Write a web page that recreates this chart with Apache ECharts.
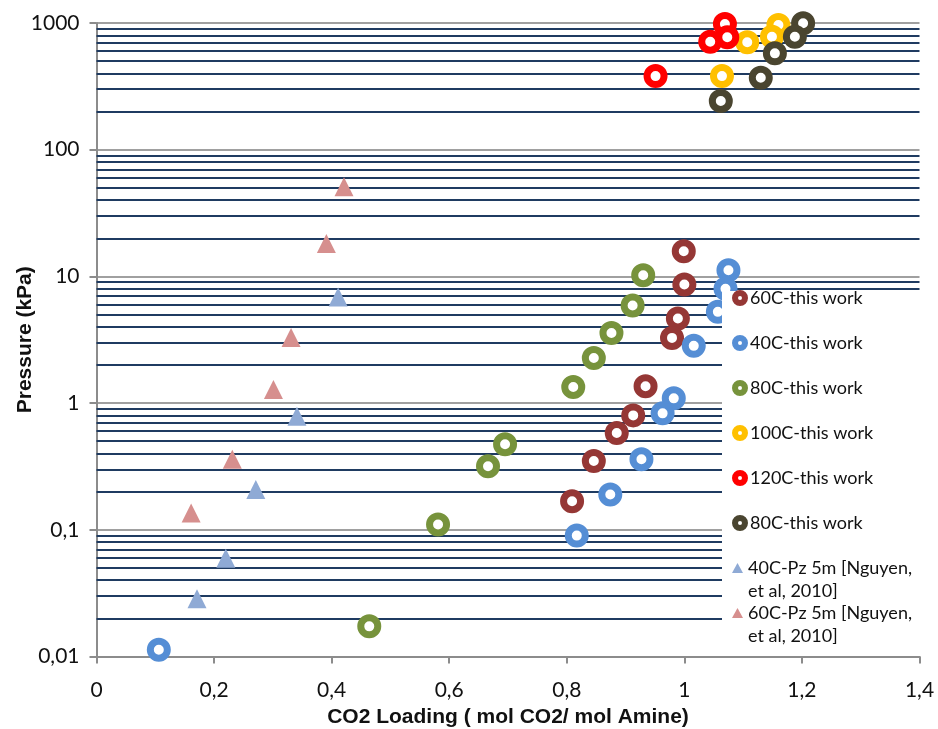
<!DOCTYPE html>
<html>
<head>
<meta charset="utf-8">
<script src="https://cdn.jsdelivr.net/npm/echarts@6/dist/echarts.min.js"></script>
<style>html,body{margin:0;padding:0;background:#fff}#c{width:938px;height:729px}</style>
</head>
<body>
<div id="c"></div>
<script>
// ---- data (x: CO2 loading, y: pressure kPa) ----
const s60x  = [0.999, 1.000, 0.989, 0.979, 0.934, 0.913, 0.885, 0.846, 0.809];
const s60y  = [15.8, 8.63, 4.65, 3.27, 1.36, 0.80, 0.58, 0.349, 0.168];
const s40x  = [1.075, 1.070, 1.057, 1.016, 0.982, 0.963, 0.927, 0.874, 0.817, 0.106];
const s40y  = [11.2, 8.0, 5.25, 2.83, 1.09, 0.83, 0.36, 0.19, 0.090, 0.0113];
const s80x  = [0.930, 0.912, 0.876, 0.846, 0.811, 0.695, 0.666, 0.581, 0.464];
const s80y  = [10.2, 5.89, 3.58, 2.27, 1.34, 0.473, 0.317, 0.110, 0.0173];
const s100x = [1.160, 1.149, 1.107, 1.064];
const s100y = [964, 779, 704, 381];
const s120x = [1.069, 1.073, 1.044, 0.951];
const s120y = [982, 771, 711, 381];
const s80bx = [1.202, 1.188, 1.154, 1.130, 1.062];
const s80by = [995, 779, 576, 370, 242];
const pz40x = [0.411, 0.341, 0.271, 0.220, 0.171];
const pz40y = [6.89, 0.787, 0.208, 0.0597, 0.0286];
const pz60x = [0.421, 0.391, 0.331, 0.301, 0.231, 0.161];
const pz60y = [50.9, 18.2, 3.29, 1.28, 0.36, 0.136];

const seriesNames = ['60C-this work', '40C-this work', '80C-this work', '100C-this work', '120C-this work', '80C-this work ',
  '40C-Pz 5m [Nguyen,\net al, 2010]', '60C-Pz 5m [Nguyen,\net al, 2010]'];
const colors = ['#953735', '#558ED5', '#77933C', '#FFC000', '#FF0000', '#4A4530', '#8FAAD5', '#D68F8E'];
const decades = [0.01, 0.1, 1, 10, 100];
const minorMult = [2, 3, 4, 5, 6, 7, 8, 9];

const xs = [s60x, s40x, s80x, s100x, s120x, s80bx, pz40x, pz60x];
const ys = [s60y, s40y, s80y, s100y, s120y, s80by, pz40y, pz60y];

const minorLines = [];
decades.forEach(d => minorMult.forEach(m => minorLines.push({ yAxis: +(d * m).toPrecision(3) })));

const FONT = 'Lato';
const TFONT = 'Liberation Sans';
const series = [{
  type: 'line', data: [], silent: true, z: 1,
  markLine: {
    silent: true, z: 1, symbol: ['none', 'none'], animation: false,
    label: { show: false },
    lineStyle: { color: '#1F3B61', width: 2, type: 'solid' },
    emphasis: { disabled: true },
    data: minorLines
  }
}];
xs.forEach((xa, i) => {
  const tri = i >= 6;
  series.push({
    name: seriesNames[i],
    type: 'scatter',
    z: 2,
    symbol: tri ? 'triangle' : 'circle',
    symbolSize: tri ? 19 : 17,
    itemStyle: tri ? { color: colors[i], opacity: 1 } : { color: '#fff', borderColor: colors[i], borderWidth: 7, opacity: 1 },
    data: xa.map((x, k) => [x, ys[i][k]])
  });
});

const legendItem = (i) => {
  const tri = i >= 6;
  return {
    name: seriesNames[i],
    icon: tri ? 'triangle' : 'circle',
    itemStyle: tri ? { color: colors[i], borderWidth: 0 } : { color: '#fff', borderColor: colors[i], borderWidth: 6 }
  };
};

const chart = echarts.init(document.getElementById('c'), null, { renderer: 'canvas' });
chart.setOption({
  animation: false,
  backgroundColor: '#fff',
  grid: { left: 96.5, right: 18.5, top: 23, bottom: 72.5, containLabel: false, outerBoundsMode: 'none' },
  xAxis: {
    type: 'value', min: 0, max: 1.4, interval: 0.2,
    name: 'CO2 Loading ( mol CO2/ mol Amine)', nameLocation: 'middle', nameGap: 50, nameMoveOverlap: false,
    nameTextStyle: { fontFamily: TFONT, fontWeight: 'bold', fontSize: 21, color: '#111' },
    axisLine: { show: true, lineStyle: { color: '#8C8C8C', width: 2 } },
    axisTick: { show: true, inside: false, length: 7, lineStyle: { color: '#8C8C8C', width: 2 } },
    axisLabel: { margin: 23, fontFamily: FONT, fontSize: 21, color: '#111',
      formatter: v => String(+v.toFixed(1)).replace('.', ',') },
    splitLine: { show: false }
  },
  yAxis: {
    type: 'log', logBase: 10, min: 0.01, max: 1000,
    name: 'Pressure (kPa)', nameLocation: 'middle', nameGap: 61, nameMoveOverlap: false,
    nameTextStyle: { fontFamily: TFONT, fontWeight: 'bold', fontSize: 21, color: '#111' },
    axisLine: { show: true, lineStyle: { color: '#8C8C8C', width: 2 } },
    axisTick: { show: true, inside: false, length: 7, lineStyle: { color: '#8C8C8C', width: 2 } },
    axisLabel: { margin: 17, fontFamily: FONT, fontSize: 21, color: '#111',
      formatter: v => String(+(+v).toPrecision(3)).replace('.', ',') },
    splitLine: { show: true, lineStyle: { color: '#A0A0A0', width: 2 } },
    minorTick: { show: false }, minorSplitLine: { show: false }
  },
  graphic: [{
    type: 'rect', z: 3, left: 722, top: 291, silent: true,
    shape: { width: 216, height: 363 }, style: { fill: '#fff' }
  }],
  legend: [{
    orient: 'vertical', left: 727, top: 282, itemWidth: 10, itemHeight: 10, itemGap: 23,
    selectedMode: false, z: 4,
    textStyle: { fontFamily: FONT, fontSize: 18, lineHeight: 22, color: '#111' },
    data: [0, 1, 2, 3, 4, 5].map(legendItem)
  }, {
    orient: 'vertical', left: 727, top: 528.5, itemWidth: 11, itemHeight: 10, itemGap: -24,
    selectedMode: false, z: 4,
    formatter: name => '{e| }\n' + name,
    textStyle: { fontFamily: FONT, fontSize: 18, lineHeight: 23, color: '#111',
      rich: { e: { fontFamily: FONT, fontSize: 18, lineHeight: 23 } } },
    data: [6, 7].map(legendItem)
  }],
  series: series
});
</script>
</body>
</html>
